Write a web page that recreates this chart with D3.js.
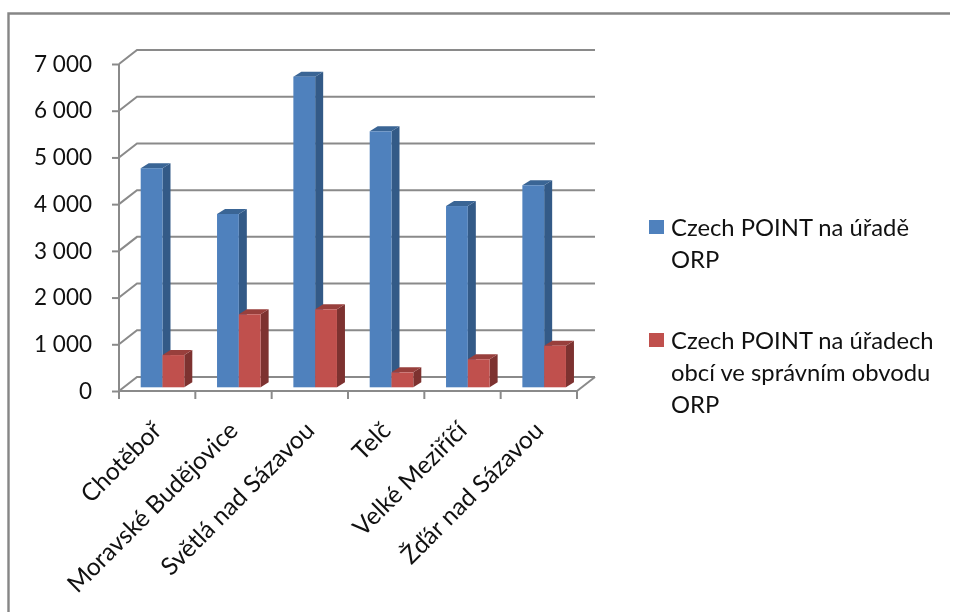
<!DOCTYPE html>
<html><head><meta charset="utf-8">
<script src="https://cdn.jsdelivr.net/npm/d3@7"></script>
<style>html,body{margin:0;padding:0;background:#fff}svg{display:block;filter:blur(.45px)}text{font-family:Lato,"Open Sans",sans-serif;fill:#111}</style>
</head><body><svg id="c" width="953" height="612"></svg>
<script>
const categories=["Chotěboř","Moravské Budějovice","Světlá nad Sázavou","Telč","Velké Meziříčí","Žďár nad Sázavou"];
const seriesNames=["Czech POINT na úřadě ORP","Czech POINT na úřadech obcí ve správním obvodu ORP"];
const orpValues=[4690,3710,6650,5480,3880,4325];
const obceValues=[690,1563,1670,320,600,890];
const tickValues=[0,1000,2000,3000,4000,5000,6000,7000];
const tickLabels=["0","1 000","2 000","3 000","4 000","5 000","6 000","7 000"];
const legendLines=[["Czech POINT na úřadě","ORP"],["Czech POINT na úřadech","obcí ve správním obvodu","ORP"]];
const colors=[{front:"#4f81bd",side:"#335a87",top:"#3a6595"},{front:"#c0504d",side:"#7d3230",top:"#983f3c"}];
const grid="#8a8a8a";

const svg=d3.select("#c");
const x=d3.scaleBand().domain(categories).range([119,577]);
const y=d3.scaleLinear().domain([0,7000]).range([391,64]);
const wallDx=18,wallDy=-14,floorInset=3.7,barDx=8,barDy=-5;

svg.append("path").attr("d","M8.5,612V13.5H950").attr("fill","none").attr("stroke","#868686").attr("stroke-width",2.4);

const g=svg.append("g").attr("fill","none").attr("stroke",grid).attr("stroke-width",2);
tickValues.forEach(v=>{
  g.append("path").attr("d",`M${x.range()[0]},${y(v)}l${wallDx},${wallDy}H${x.range()[1]+wallDx}`);
});
g.append("path").attr("d",`M${x.range()[1]},${y(0)}l${wallDx},${wallDy}`);

const ax=svg.append("g").attr("transform",`translate(${x.range()[0]},0)`)
  .call(d3.axisLeft(y).tickValues(tickValues).tickSize(7).tickPadding(4).tickFormat((d,i)=>tickLabels[i]));
ax.selectAll("path,line").attr("stroke",grid).attr("stroke-width",2);
ax.selectAll("text").attr("font-size",22.5).attr("dy","0.32em").attr("x",-27).attr("text-anchor","end");
ax.select("path").attr("d",`M0,${y(7000)}V${y(0)}`);

const ab=svg.append("g").attr("transform",`translate(0,${y(0)})`)
  .call(d3.axisBottom(x).tickSize(0).tickFormat(""));
ab.select("path").attr("stroke",grid).attr("stroke-width",2).attr("d",`M${x.range()[0]},0H${x.range()[1]}`);
ab.selectAll(".tick").remove();
const tickPos=categories.map(c=>x(c)).concat([x.range()[1]]);
svg.append("g").selectAll("line").data(tickPos).join("line")
  .attr("x1",d=>d).attr("x2",d=>d).attr("y1",y(0)).attr("y2",y(0)+8)
  .attr("stroke",grid).attr("stroke-width",2);

const base=y(0)-floorInset;
const unit=y(0)-y(1000);
const h=v=>v/1000*unit;
const barW=21.8,groupOffset=21.7;
const drawSeries=(vals,si)=>{
  const c=colors[si];
  const gg=svg.append("g");
  categories.forEach((cat,i)=>{
    const xl=x(cat)+groupOffset+si*barW, top=base-h(vals[i]);
    gg.append("path").attr("fill",c.side).attr("d",`M${xl+barW},${top}l${barDx},${barDy}V${base+barDy}l${-barDx},${-barDy}Z`);
    gg.append("path").attr("fill",c.top).attr("d",`M${xl},${top}l${barDx},${barDy}h${barW}l${-barDx},${-barDy}Z`);
    gg.append("rect").attr("x",xl).attr("y",top).attr("width",barW).attr("height",h(vals[i])).attr("fill",c.front);
  });
};
drawSeries(orpValues,0);
drawSeries(obceValues,1);

svg.append("g").selectAll("text").data(categories).join("text")
  .attr("font-size",24.5).attr("text-anchor","end")
  .attr("transform",c=>`translate(${x(c)+x.bandwidth()/2+6},${y(0)+41}) rotate(-45)`)
  .text(c=>c);

const leg=svg.append("g");
const legendY=[227,340];
legendLines.forEach((lines,i)=>{
  leg.append("rect").attr("x",649).attr("y",legendY[i]-7).attr("width",15).attr("height",14).attr("fill",colors[i].front);
  lines.forEach((t,j)=>leg.append("text").attr("x",671).attr("y",legendY[i]+j*32+9).attr("font-size",23.8).text(t));
});
</script></body></html>
